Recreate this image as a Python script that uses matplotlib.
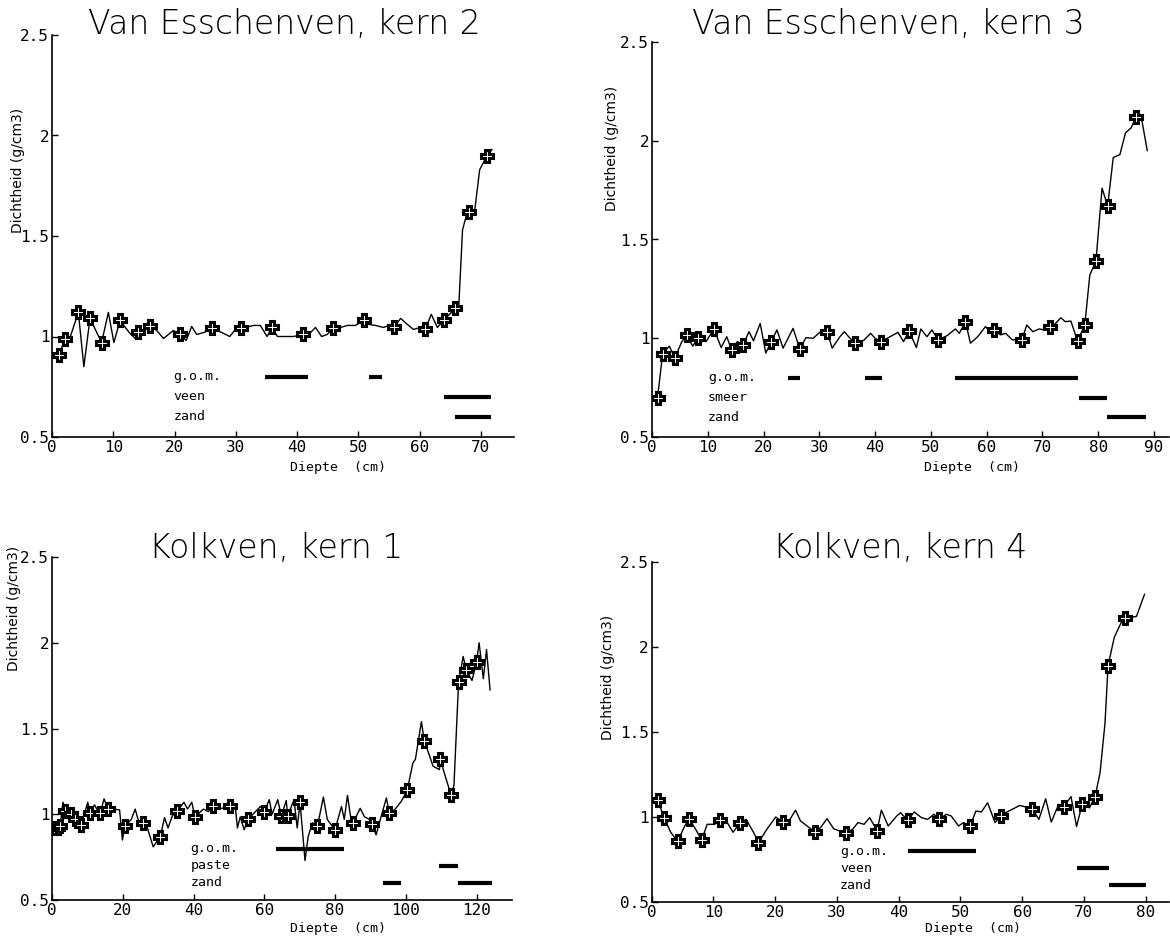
import matplotlib
matplotlib.use("Agg")
import matplotlib.pyplot as plt

#################################################################
# Data (depth in cm, density g/cm3)
#################################################################

# Van Esschenven, kern 2
ve2_line_x = [1.2, 2.1, 3.0, 4.3, 5.2, 6.2, 8.1, 9.2, 10.1, 11.1, 12.6, 13.6, 14.0, 15.0, 16.0, 17.1, 18.2,
              19.8, 20.9, 21.9, 22.8, 23.6, 24.8, 26.1, 27.7, 29.0, 29.8, 30.9, 32.9, 34.0, 35.1, 35.9,
              36.8, 38.3, 39.4, 41.0, 41.9, 43.0, 44.0, 44.9, 45.9, 47.1, 48.2, 49.5, 50.9, 51.7, 52.8,
              54.1, 55.0, 55.8, 56.9, 58.0, 59.0, 60.1, 60.9, 61.9, 62.9, 63.9, 65.8, 66.4, 67.0, 67.6,
              68.0, 69.0, 69.8, 71.0, 71.8]
ve2_line_y = [0.91, 0.99, 1.00, 1.12, 0.85, 1.09, 0.97, 1.12, 0.97, 1.08, 1.02, 0.99, 1.02, 1.03, 1.05, 1.03, 0.99,
              1.03, 1.01, 0.98, 1.05, 1.01, 1.02, 1.04, 1.02, 1.00, 1.03, 1.04, 1.055, 1.055, 1.00, 1.045,
              1.00, 1.00, 1.00, 1.01, 1.01, 1.045, 1.00, 1.01, 1.04, 1.045, 1.055, 1.055, 1.08, 1.06, 1.055,
              1.045, 1.055, 1.045, 1.09, 1.06, 1.035, 1.045, 1.035, 1.11, 1.045, 1.08, 1.14, 1.16, 1.53, 1.60,
              1.62, 1.63, 1.83, 1.90, 1.93]
ve2_mark_x = [1.2, 2.1, 4.3, 6.2, 8.1, 11.1, 14.0, 16.0, 20.9, 26.1, 30.9, 35.9, 41.0, 45.9, 50.9, 55.8,
              60.9, 63.9, 65.8, 68.0, 71.0]
ve2_mark_y = [0.91, 0.99, 1.12, 1.09, 0.97, 1.08, 1.02, 1.05, 1.01, 1.04, 1.04, 1.045, 1.01, 1.04, 1.08, 1.045,
              1.035, 1.08, 1.14, 1.62, 1.90]
ve2_layers = ["g.o.m.", "veen", "zand"]
ve2_bar_layer = [0, 0, 1, 2]
ve2_bar_start = [34.8, 51.8, 63.9, 65.7]
ve2_bar_end = [41.8, 53.9, 71.7, 71.7]

# Van Esschenven, kern 3
ve3_line_x = [1.0, 1.9, 3.1, 4.1, 5.3, 6.2, 7.3, 8.2, 9.7, 11.1, 12.4, 13.4, 14.3, 15.3, 16.3, 17.4, 18.2,
              19.4, 20.4, 21.4, 22.4, 23.5, 25.3, 26.5, 27.6, 28.9, 30.2, 31.4, 32.3, 33.7, 34.5, 35.5,
              36.4, 38.0, 39.2, 40.0, 41.1, 42.7, 44.1, 45.1, 46.1, 47.4, 48.2, 49.3, 50.2, 51.3, 52.9,
              54.4, 55.1, 56.2, 57.1, 58.4, 59.8, 60.6, 61.4, 62.5, 63.4, 64.6, 66.3, 67.2, 68.3, 69.4,
              70.4, 71.3, 72.2, 73.3, 74.1, 75.1, 76.3, 77.6, 78.5, 79.6, 80.7, 81.7, 82.7, 83.9, 84.9,
              85.9, 86.8, 87.7, 88.8]
ve3_line_y = [0.70, 0.92, 0.96, 0.90, 0.98, 1.017, 0.96, 1.00, 0.983, 1.047, 0.953, 1.008, 0.94, 0.983, 0.966,
              1.033, 0.987, 1.075, 0.925, 0.983, 1.042, 0.95, 1.05, 0.946, 1.003, 1.00, 1.033, 1.033, 0.95,
              1.008, 1.033, 1.00, 0.978, 0.99, 1.025, 1.00, 0.983, 1.008, 1.03, 0.983, 1.037, 0.953, 1.047,
              1.008, 1.042, 0.992, 1.013, 1.047, 1.025, 1.084, 0.975, 1.008, 1.059, 1.033, 1.042, 1.017,
              1.025, 0.992, 0.992, 1.067, 1.033, 1.047, 1.042, 1.059, 1.07, 1.104, 1.084, 1.087, 0.987,
              1.067, 1.32, 1.39, 1.76, 1.67, 1.915, 1.93, 2.04, 2.065, 2.12, 2.125, 1.95]
ve3_mark_x = [1.0, 1.9, 4.1, 6.2, 8.2, 11.1, 14.3, 16.3, 21.4, 26.5, 31.4, 36.4, 41.1, 46.1, 51.3, 56.2,
              61.4, 66.3, 71.3, 76.3, 77.6, 79.6, 81.7, 86.8]
ve3_mark_y = [0.70, 0.92, 0.90, 1.017, 1.00, 1.047, 0.94, 0.966, 0.983, 0.946, 1.033, 0.978, 0.983, 1.037, 0.992,
              1.084, 1.042, 0.992, 1.059, 0.987, 1.067, 1.39, 1.67, 2.12]
ve3_layers = ["g.o.m.", "smeer", "zand"]
ve3_bar_layer = [0, 0, 0, 1, 2]
ve3_bar_start = [24.4, 38.2, 54.3, 76.5, 81.5]
ve3_bar_end = [26.5, 41.2, 76.3, 81.5, 88.5]

# Kolkven, kern 1
kv1_line_x = [0.0, 0.5, 1.6, 2.3, 3.1, 3.8, 4.5, 5.3, 6.4, 7.2, 8.1, 9.0, 10.1, 10.8, 12.0, 13.2, 13.7, 14.7,
              15.8, 17.5, 19.1, 19.9, 20.6, 22.4, 23.5, 24.6, 25.8, 26.2, 28.6, 30.6, 31.8, 32.8, 34.0,
              35.4, 37.3, 38.3, 39.5, 40.4, 42.8, 44.2, 45.4, 46.6, 49.4, 50.4, 51.8, 52.4, 53.2, 54.3,
              55.4, 57.0, 58.9, 60.0, 61.4, 62.2, 63.8, 64.8, 66.2, 66.6, 68.4, 69.3, 70.1, 71.5, 72.4,
              73.6, 75.0, 76.7, 77.8, 79.2, 80.0, 81.8, 82.6, 83.5, 84.5, 85.1, 87.1, 88.3, 89.7, 90.3,
              91.6, 93.0, 94.5, 95.3, 96.8, 98.7, 100.4, 102.0, 102.7, 104.4, 105.2, 107.7, 109.5, 109.7,
              112.8, 113.6, 114.9, 116.2, 117.1, 118.7, 120.0, 120.7, 121.9, 122.8, 123.8]
kv1_line_y = [0.92, 0.92, 0.92, 0.93, 1.07, 1.02, 1.025, 1.00, 0.97, 0.95, 0.94, 0.99, 1.07, 1.005, 1.055, 1.01,
              1.01, 1.09, 1.03, 1.03, 1.025, 0.85, 0.93, 0.97, 1.03, 0.95, 0.95, 0.97, 0.81, 0.87, 0.98, 0.92,
              0.99, 1.02, 1.07, 1.03, 1.07, 0.985, 1.03, 1.015, 1.05, 1.035, 1.035, 1.05, 1.045, 0.92, 0.985,
              0.91, 0.97, 1.005, 1.045, 1.015, 1.085, 1.00, 1.085, 0.99, 1.08, 0.99, 1.085, 0.92, 1.07, 0.73,
              0.87, 0.95, 0.93, 1.10, 0.97, 0.93, 0.91, 1.045, 0.97, 1.11, 0.97, 0.95, 1.035, 0.985, 0.97,
              0.945, 0.88, 0.985, 1.095, 1.01, 1.025, 1.075, 1.14, 1.30, 1.32, 1.54, 1.43, 1.28, 1.26, 1.32,
              1.11, 1.17, 1.77, 1.92, 1.84, 1.78, 1.89, 2.00, 1.79, 1.96, 1.725]
kv1_mark_x = [0.5, 1.6, 2.3, 3.8, 5.3, 6.4, 8.1, 10.8, 13.7, 15.8, 20.6, 25.8, 30.6, 35.4, 40.4, 45.4, 50.4,
              55.4, 60.0, 64.8, 66.6, 70.1, 75.0, 80.0, 85.1, 90.3, 95.3, 100.4, 105.2, 109.7, 112.8, 114.9,
              117.1, 120.0]
kv1_mark_y = [0.92, 0.92, 0.93, 1.02, 1.00, 0.97, 0.94, 1.005, 1.01, 1.03, 0.93, 0.95, 0.87, 1.02, 0.985, 1.05,
              1.05, 0.97, 1.015, 0.99, 0.99, 1.07, 0.93, 0.91, 0.95, 0.945, 1.01, 1.14, 1.43, 1.32, 1.11, 1.77,
              1.84, 1.89]
kv1_layers = ["g.o.m.", "paste", "zand"]
kv1_bar_layer = [0, 1, 2, 2]
kv1_bar_start = [63.4, 109.5, 93.6, 114.7]
kv1_bar_end = [82.6, 114.7, 98.7, 124.3]

# Kolkven, kern 4
kv4_line_x = [1.0, 2.0, 3.1, 4.2, 5.4, 6.1, 7.1, 8.1, 9.0, 10.2, 11.1, 12.2, 13.2, 14.3, 15.3, 16.5, 17.3,
              18.7, 20.1, 21.3, 22.4, 23.3, 24.1, 26.5, 27.4, 28.4, 29.5, 31.5, 32.6, 33.4, 34.4, 35.3,
              36.5, 37.2, 38.3, 39.7, 40.3, 41.5, 42.5, 43.7, 44.7, 45.7, 46.6, 47.7, 48.5, 49.7, 50.5,
              51.6, 52.5, 53.4, 54.4, 55.6, 56.5, 57.3, 59.6, 61.6, 62.7, 63.8, 64.7, 65.9, 66.7, 67.9,
              68.8, 69.7, 70.9, 71.8, 72.6, 73.4, 73.9, 74.9, 76.1, 76.7, 78.5, 79.8]
kv4_line_y = [1.10, 0.996, 0.91, 0.856, 0.95, 0.986, 0.93, 0.865, 0.957, 0.957, 0.98, 0.97, 0.91, 0.967, 0.986,
              0.91, 0.85, 0.93, 1.00, 0.97, 0.986, 1.04, 0.977, 0.91, 0.94, 0.99, 0.93, 0.905, 0.93, 0.967,
              0.957, 0.996, 0.92, 1.04, 0.947, 1.006, 1.025, 0.98, 1.03, 0.996, 0.986, 1.016, 0.986, 1.016,
              1.006, 0.947, 0.967, 0.95, 1.035, 1.03, 1.084, 0.967, 1.006, 1.025, 1.068, 1.05, 0.986, 1.107,
              0.97, 1.074, 1.06, 1.12, 0.944, 1.074, 1.054, 1.12, 1.26, 1.55, 1.89, 2.056, 2.15, 2.17, 2.18,
              2.31]
kv4_mark_x = [1.0, 2.0, 4.2, 6.1, 8.1, 11.1, 14.3, 17.3, 21.3, 26.5, 31.5, 36.5, 41.5, 46.6, 51.6, 56.5,
              61.6, 66.7, 69.7, 71.8, 73.9, 76.7]
kv4_mark_y = [1.10, 0.996, 0.856, 0.986, 0.865, 0.98, 0.967, 0.85, 0.97, 0.91, 0.905, 0.92, 0.98, 0.986, 0.95,
              1.006, 1.05, 1.06, 1.074, 1.12, 1.89, 2.17]
kv4_layers = ["g.o.m.", "veen", "zand"]
kv4_bar_layer = [0, 1, 2]
kv4_bar_start = [41.5, 68.9, 74.1]
kv4_bar_end = [52.5, 74.1, 80.0]

layer_levels = [0.8, 0.7, 0.6]
y_ticks = [0.5, 1, 1.5, 2, 2.5]
y_tick_labels = ["0.5", "1", "1.5", "2", "2.5"]


#################################################################
# Draws one panel of the figure
#################################################################
def draw_panel(fig, rect, xmax, xstep, title, title_xy, ylab_xy, xlab_xy,
               line_x, line_y, mark_x, mark_y, layers, text_x, bar_layer, bar_start, bar_end):
    ax = fig.add_axes(rect)
    ax.set_xlim(0, xmax)
    ax.set_ylim(0.5, 2.5)

    ax.plot(line_x, line_y, color='black', lw=1.0)
    ax.plot(mark_x, mark_y, linestyle='none', marker='P', ms=8,
            mfc='white', mec='black', mew=2.2)

    # layer bars + their names
    for i in range(len(layers)):
        ax.text(text_x, layer_levels[i], layers[i], fontsize=9.5, family='DejaVu Sans Mono',
                ha='left', va='center')
    for i in range(len(bar_layer)):
        lvl = layer_levels[bar_layer[i]]
        ax.plot([bar_start[i], bar_end[i]], [lvl, lvl], color='black', lw=3, solid_capstyle='butt')

    ax.spines['top'].set_visible(False)
    ax.spines['right'].set_visible(False)
    ax.spines['left'].set_linewidth(1.2)
    ax.spines['bottom'].set_linewidth(1.2)

    ax.set_xticks(range(0, int(xmax) + 1, xstep))
    ax.set_yticks(y_ticks)
    ax.set_yticklabels(y_tick_labels)
    ax.tick_params(direction='in', length=4, width=1, labelsize=11.5, pad=2)
    for lab in ax.get_xticklabels() + ax.get_yticklabels():
        lab.set_family('DejaVu Sans Mono')

    fig.text(title_xy[0] / 1170, 1 - title_xy[1] / 938, title, fontsize=23.8,
             fontweight='light', ha='center', va='center')
    fig.text(ylab_xy[0] / 1170, 1 - ylab_xy[1] / 938, 'Dichtheid (g/cm3)', fontsize=10,
             rotation=90, ha='center', va='center')
    fig.text(xlab_xy[0] / 1170, 1 - xlab_xy[1] / 938, 'Diepte  (cm)', fontsize=9.5,
             family='DejaVu Sans Mono', ha='center', va='center')
    return ax


fig = plt.figure(figsize=(11.7, 9.38), dpi=100)

draw_panel(fig, [52 / 1170, 1 - 437 / 938, 462 / 1170, 402 / 938], 75.4, 10,
           'Van Esschenven, kern 2', (284, 24), (18, 170), (338, 467),
           ve2_line_x, ve2_line_y, ve2_mark_x, ve2_mark_y, ve2_layers, 19.8,
           ve2_bar_layer, ve2_bar_start, ve2_bar_end)

draw_panel(fig, [652 / 1170, 1 - 437 / 938, 517 / 1170, 395 / 938], 92.7, 10,
           'Van Esschenven, kern 3', (888, 25), (612, 148), (972, 467),
           ve3_line_x, ve3_line_y, ve3_mark_x, ve3_mark_y, ve3_layers, 10.0,
           ve3_bar_layer, ve3_bar_start, ve3_bar_end)

draw_panel(fig, [52 / 1170, 1 - 900 / 938, 460 / 1170, 343 / 938], 130, 20,
           'Kolkven, kern 1', (276, 548), (14, 608), (338, 928),
           kv1_line_x, kv1_line_y, kv1_mark_x, kv1_mark_y, kv1_layers, 39.2,
           kv1_bar_layer, kv1_bar_start, kv1_bar_end)

draw_panel(fig, [651.6 / 1170, 1 - 902 / 938, 517 / 1170, 340 / 938], 83.7, 10,
           'Kolkven, kern 4', (900, 548), (608, 677), (973, 928),
           kv4_line_x, kv4_line_y, kv4_mark_x, kv4_mark_y, kv4_layers, 30.5,
           kv4_bar_layer, kv4_bar_start, kv4_bar_end)

fig.savefig('out.png', dpi=100)
